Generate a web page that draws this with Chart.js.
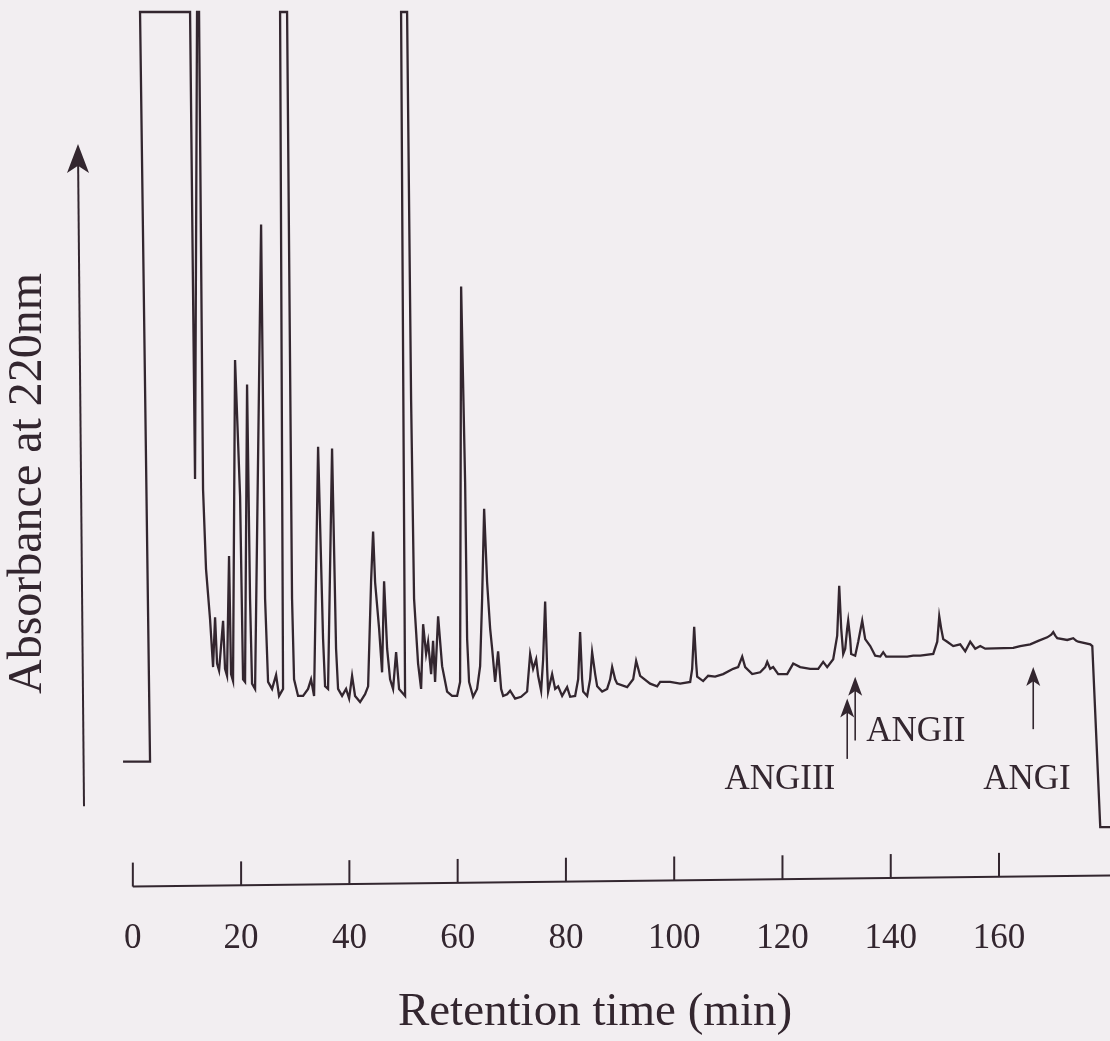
<!DOCTYPE html>
<html>
<head>
<meta charset="utf-8">
<title>Absorbance at 220nm vs retention time</title>
<script src="https://cdn.jsdelivr.net/npm/chart.js@4.4.1/dist/chart.umd.min.js"></script>
<style>
  html, body { margin: 0; padding: 0; background: #f2eef1; }
  #wrap { position: relative; width: 1110px; height: 1041px; }
</style>
</head>
<body>
<div id="wrap"><canvas id="myChart"></canvas></div>
<script>
/* trace: time in min, absorbance in relative units (1 = off scale) */
const retentionTime = [-1.81, 3.18, 1.33, 10.57, 11.49, 11.86, 12.23, 12.97, 13.52, 14.26,
  14.82, 15.19, 15.56, 15.93, 16.67, 17.03, 17.40, 17.77, 18.14, 18.51,
  18.88, 19.81, 20.36, 20.73, 21.10, 21.65, 22.02, 22.58, 23.69, 24.43,
  24.98, 25.72, 26.46, 27.01, 27.75, 27.20, 28.49, 29.41, 29.78, 30.52,
  31.45, 32.37, 32.92, 33.48, 34.22, 35.14, 35.51, 36.06, 36.80, 37.54,
  37.91, 38.65, 39.39, 39.95, 40.50, 41.05, 41.98, 42.90, 43.46, 44.01,
  44.38, 44.75, 45.49, 46.04, 46.41, 46.97, 47.52, 48.07, 48.63, 49.18,
  50.29, 49.55, 50.66, 51.40, 51.95, 52.69, 53.25, 53.62, 54.17, 54.54,
  55.10, 55.46, 55.83, 56.39, 57.13, 58.05, 58.97, 59.90, 60.45, 60.64,
  61.38, 61.75, 62.11, 62.85, 63.59, 64.15, 64.52, 64.89, 65.44, 66.00,
  66.37, 66.92, 67.47, 68.03, 68.40, 69.14, 69.69, 70.61, 71.72, 72.83,
  73.39, 73.94, 74.50, 74.86, 75.42, 75.79, 76.16, 76.53, 76.71, 77.45,
  78.01, 78.56, 79.30, 80.22, 80.78, 81.70, 82.26, 82.62, 82.99, 83.18,
  83.92, 84.47, 84.84, 85.40, 85.77, 86.69, 87.61, 88.17, 88.54, 89.09,
  89.46, 91.31, 92.42, 92.97, 93.71, 95.55, 96.85, 97.41, 99.25, 101.10,
  102.95, 103.32, 103.69, 104.06, 104.24, 105.35, 106.27, 107.56, 109.04, 110.89,
  111.81, 112.56, 113.11, 114.41, 115.88, 116.81, 117.18, 117.73, 118.28, 119.21,
  120.87, 121.98, 123.27, 125.12, 126.60, 127.52, 128.26, 129.37, 130.11, 130.48,
  130.85, 131.22, 131.59, 131.95, 132.14, 132.51, 132.69, 133.43, 133.99, 134.73,
  135.28, 136.21, 137.13, 138.06, 138.61, 139.16, 143.04, 144.15, 145.45, 147.85,
  148.59, 148.96, 149.32, 149.69, 150.43, 151.54, 152.83, 153.76, 154.68, 155.61,
  156.53, 157.45, 162.63, 163.92, 165.77, 167.25, 168.91, 169.65, 170.02, 170.39,
  170.76, 172.60, 173.16, 173.71, 174.27, 174.64, 176.86, 177.23, 178.70, 180.50];

const absorbance = [0.143, 0.143, 1.000, 1.000, 0.466, 1.000, 1.000, 0.454, 0.363, 0.306,
  0.251, 0.308, 0.255, 0.247, 0.304, 0.249, 0.241, 0.378, 0.243, 0.235,
  0.602, 0.446, 0.237, 0.234, 0.574, 0.329, 0.232, 0.226, 0.757, 0.329,
  0.234, 0.226, 0.242, 0.218, 0.226, 1.000, 1.000, 0.329, 0.237, 0.218,
  0.218, 0.226, 0.237, 0.218, 0.503, 0.283, 0.229, 0.226, 0.501, 0.272,
  0.226, 0.218, 0.226, 0.215, 0.241, 0.218, 0.211, 0.220, 0.229, 0.349,
  0.406, 0.348, 0.295, 0.245, 0.349, 0.272, 0.237, 0.226, 0.268, 0.226,
  0.218, 1.000, 1.000, 0.557, 0.329, 0.255, 0.226, 0.300, 0.266, 0.280,
  0.243, 0.281, 0.234, 0.309, 0.252, 0.223, 0.218, 0.218, 0.234, 0.686,
  0.462, 0.283, 0.234, 0.217, 0.226, 0.252, 0.329, 0.432, 0.348, 0.295,
  0.272, 0.234, 0.269, 0.226, 0.218, 0.220, 0.224, 0.215, 0.217, 0.223,
  0.266, 0.249, 0.260, 0.241, 0.224, 0.260, 0.326, 0.249, 0.223, 0.243,
  0.226, 0.229, 0.218, 0.228, 0.217, 0.218, 0.237, 0.291, 0.237, 0.223,
  0.218, 0.237, 0.268, 0.243, 0.229, 0.223, 0.226, 0.237, 0.251, 0.237,
  0.232, 0.228, 0.237, 0.258, 0.241, 0.232, 0.229, 0.234, 0.234, 0.232,
  0.234, 0.249, 0.297, 0.255, 0.240, 0.235, 0.241, 0.240, 0.243, 0.249,
  0.251, 0.263, 0.251, 0.243, 0.245, 0.251, 0.257, 0.249, 0.251, 0.243,
  0.243, 0.255, 0.251, 0.249, 0.249, 0.257, 0.251, 0.260, 0.287, 0.344,
  0.295, 0.266, 0.272, 0.295, 0.304, 0.283, 0.266, 0.264, 0.280, 0.304,
  0.283, 0.275, 0.264, 0.263, 0.268, 0.263, 0.263, 0.264, 0.264, 0.266,
  0.280, 0.309, 0.295, 0.283, 0.280, 0.275, 0.277, 0.269, 0.280, 0.272,
  0.275, 0.272, 0.273, 0.275, 0.277, 0.281, 0.285, 0.288, 0.291, 0.287,
  0.284, 0.282, 0.283, 0.284, 0.281, 0.280, 0.277, 0.275, 0.068, 0.068];

const timeTicks = [0, 20, 40, 60, 80, 100, 120, 140, 160];

// peak markers (arrow at the elution time, label next to it)
const peakNames = ['ANGIII', 'ANGII', 'ANGI'];
const peakTimes = [131.96, 133.43, 166.32];
const arrowTipLevel = [0.215, 0.240, 0.251];
const arrowTailLevel = [0.146, 0.167, 0.180];
const labelTimes = [129.74, 135.47, 157.08];
const labelLevels = [0.112, 0.166, 0.112];

const INK = '#33262f';
const SERIF = "'Liberation Serif', 'Times New Roman', serif";

function arrowHead(ctx, x, y, w, h) {
  ctx.beginPath();
  ctx.moveTo(x, y);
  ctx.lineTo(x - w / 2, y + h);
  ctx.lineTo(x, y + h * 0.75);
  ctx.lineTo(x + w / 2, y + h);
  ctx.closePath();
  ctx.fill();
}

const chromAxes = {
  id: 'chromAxes',
  afterDraw(chart) {
    const { ctx, chartArea } = chart;
    const xs = chart.scales.x;
    const ys = chart.scales.y;
    ctx.save();
    ctx.strokeStyle = INK;
    ctx.fillStyle = INK;
    ctx.lineWidth = 2;

    // absorbance arrow on the left
    const yTop = ys.getPixelForValue(0.849);
    const yBot = ys.getPixelForValue(0.092);
    ctx.beginPath();
    ctx.moveTo(chartArea.left + 4, yBot);
    ctx.lineTo(chartArea.left - 2, yTop + 6);
    ctx.stroke();
    arrowHead(ctx, chartArea.left - 2, yTop, 22, 29);

    // y title beside the arrow
    ctx.save();
    ctx.translate(chartArea.left - 52, ys.getPixelForValue(0.461));
    ctx.rotate(-Math.PI / 2);
    ctx.font = '48px ' + SERIF;
    ctx.textAlign = 'center';
    ctx.textBaseline = 'middle';
    ctx.fillText('Absorbance at 220nm', 0, 0);
    ctx.restore();

    // time axis with upward ticks (paper is slightly skewed)
    const x0 = xs.getPixelForValue(0);
    const y0 = ys.getPixelForValue(0);
    const rise = 11 / (chartArea.right - x0);
    ctx.beginPath();
    ctx.moveTo(x0, y0);
    ctx.lineTo(chartArea.right, y0 - 11);
    ctx.stroke();
    timeTicks.forEach(t => {
      const px = xs.getPixelForValue(t);
      const py = y0 - (px - x0) * rise;
      ctx.beginPath();
      ctx.moveTo(px, py);
      ctx.lineTo(px, py - 24);
      ctx.stroke();
    });

    // ANG arrows and labels
    ctx.lineWidth = 1.6;
    peakNames.forEach((name, i) => {
      const px = xs.getPixelForValue(peakTimes[i]);
      const tip = ys.getPixelForValue(arrowTipLevel[i]);
      const tail = ys.getPixelForValue(arrowTailLevel[i]);
      ctx.beginPath();
      ctx.moveTo(px, tail);
      ctx.lineTo(px, tip + 8);
      ctx.stroke();
      arrowHead(ctx, px, tip, 14, 19);
    });
    ctx.font = '35px ' + SERIF;
    ctx.textBaseline = 'alphabetic';
    peakNames.forEach((name, i) => {
      ctx.textAlign = name === 'ANGIII' ? 'right' : 'left';
      ctx.fillText(name, xs.getPixelForValue(labelTimes[i]), ys.getPixelForValue(labelLevels[i]));
    });
    ctx.restore();
  }
};

function createChromatogram() {
  const ctx = document.getElementById('myChart').getContext('2d');
  const points = retentionTime.map((t, i) => ({ x: t, y: absorbance[i] }));

  new Chart(ctx, {
    type: 'scatter',
    data: {
      datasets: [{
        data: points,
        showLine: true,
        borderColor: INK,
        borderWidth: 2.3,
        pointRadius: 0,
        tension: 0,
        clip: false
      }]
    },
    options: {
      responsive: true,
      maintainAspectRatio: false,
      animation: false,
      layout: { padding: { top: 12, left: 80, right: 0, bottom: 0 } },
      plugins: { legend: { display: false }, tooltip: { enabled: false } },
      scales: {
        x: {
          type: 'linear',
          min: -9.76,
          max: 180.5,
          afterBuildTicks: scale => { scale.ticks = timeTicks.map(v => ({ value: v })); },
          grid: { display: false, drawTicks: false },
          border: { display: false },
          ticks: { autoSkip: false, maxRotation: 0, padding: 31, color: INK, font: { family: SERIF, size: 35 } },
          title: {
            display: true,
            text: 'Retention time (min)',
            color: INK,
            font: { family: SERIF, size: 47 },
            padding: { top: -6, bottom: 0 }
          }
        },
        y: {
          display: false,
          min: 0,
          max: 1
        }
      }
    },
    plugins: [chromAxes]
  });
}

createChromatogram();
</script>
</body>
</html>
